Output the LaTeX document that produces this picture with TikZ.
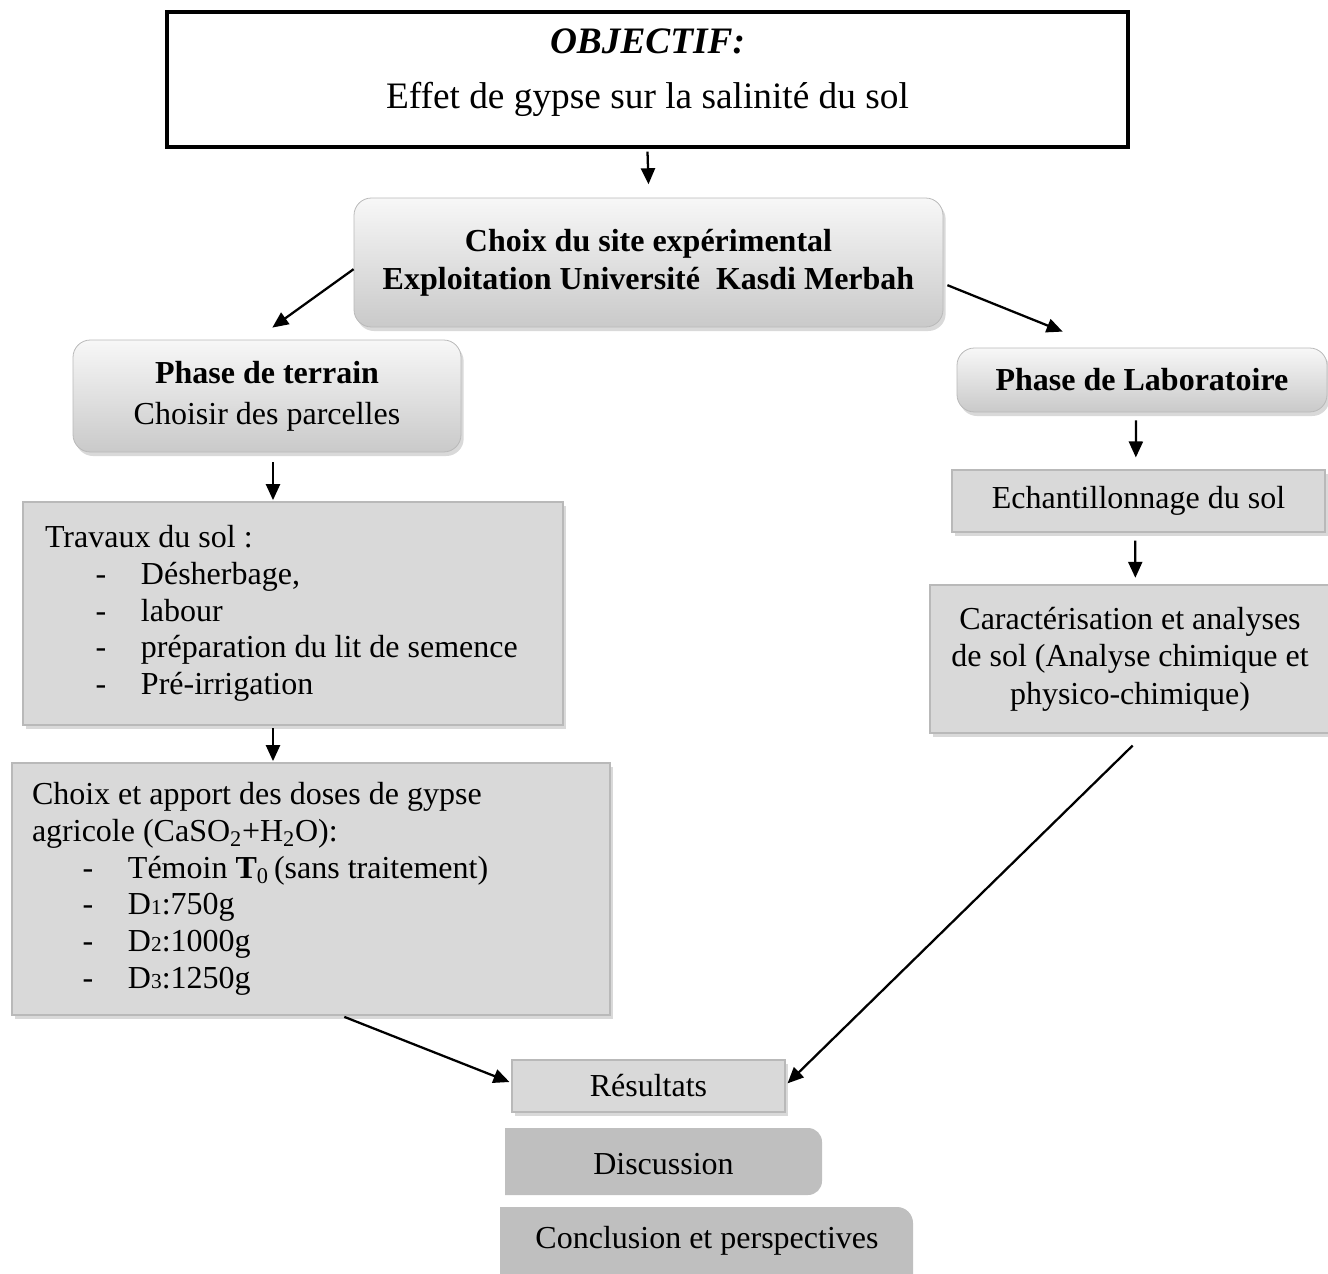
\documentclass[tikz,border=0pt]{standalone}
\usepackage{fontspec}
\setmainfont{Liberation Serif}
\usetikzlibrary{arrows.meta,shadows}
\definecolor{boxgray}{RGB}{217,217,217}
\definecolor{darkbox}{RGB}{191,191,191}
\definecolor{edgegray}{RGB}{185,185,185}
\newcommand{\ditem}[1]{\hspace*{38pt}\makebox[34pt][l]{-}#1}
\newcommand{\smallnum}[1]{{\fontsize{16}{16}\selectfont #1}}
\begin{document}
\begin{tikzpicture}[x=0.75pt,y=-0.75pt,
  objbox/.style={draw=black, line width=3pt, fill=white, inner sep=0pt},
  gradbox/.style={draw=edgegray, line width=0.6pt, rounded corners=13pt,
    top color=gray!6, bottom color=gray!42, align=center, inner sep=0pt,
    drop shadow={shadow xshift=2pt, shadow yshift=-3pt, opacity=0.3}},
  flatbox/.style={draw=edgegray, line width=0.8pt, fill=boxgray, inner sep=0pt,
    drop shadow={shadow xshift=2pt, shadow yshift=-3pt, opacity=0.3}},
  endbox/.style={fill=darkbox},
  arr/.style={line width=1.7pt, -{Triangle[length=12pt,width=10.5pt]}},
  body/.style={font=\fontsize{24}{27.5}\selectfont}
]
\useasboundingbox (0,0) rectangle (1328,1274);

% top objective box
\node[objbox, minimum width=720.75pt, minimum height=101.25pt] (obj) at (647.5,79.5)
  {\fontsize{28}{41}\selectfont\raisebox{1pt}[0pt][0pt]{\begin{tabular}{@{}c@{}}\textbf{\textit{OBJECTIF:}}\\ Effet de gypse sur la salinité du sol\end{tabular}}};

% site choice
\node[gradbox, minimum width=441.75pt, minimum height=96.75pt,
  font=\fontsize{24}{28.5}\selectfont\bfseries] (site) at (648.5,262.5)
  {Choix du site expérimental\\Exploitation Université\ \ Kasdi Merbah};

% phase de terrain
\node[gradbox, minimum width=291pt, minimum height=84pt,
  font=\fontsize{24}{31}\selectfont] (terrain) at (267,396)
  {\textbf{Phase de terrain}\\Choisir des parcelles};

% phase de laboratoire
\node[gradbox, minimum width=277.5pt, minimum height=48pt,
  font=\fontsize{24}{28}\selectfont\bfseries] (labo) at (1142,380)
  {Phase de Laboratoire};

% travaux du sol
\node[flatbox, body, text width=372pt, inner xsep=16.5pt, align=flush left,
  minimum height=167.25pt] (travaux) at (293,613.5)
  {Travaux du sol :\\
   \ditem{Désherbage,}\\
   \ditem{labour}\\
   \ditem{préparation du lit de semence}\\
   \ditem{Pré-irrigation}};

% choix et apport
\node[flatbox, body, text width=418.5pt, inner xsep=15pt, align=flush left,
  minimum height=189pt] (choix) at (311,889)
  {Choix et apport des doses de gypse\\
   agricole (CaSO\textsubscript{2}+H\textsubscript{2}O):\\
   \ditem{Témoin \textbf{T}\textsubscript{0}\,(sans traitement)}\\
   \ditem{D\smallnum{1}:750g}\\
   \ditem{D\smallnum{2}:1000g}\\
   \ditem{D\smallnum{3}:1250g}};

% echantillonnage
\node[flatbox, body, minimum width=279.75pt, minimum height=46.5pt] (echant) at (1138.5,501)
  {Echantillonnage du sol};

% caracterisation
\node[flatbox, minimum width=300pt, minimum height=111pt, align=center,
  font=\fontsize{24}{28}\selectfont] (caract) at (1130,659)
  {Caractérisation et analyses\\de sol (Analyse chimique et\\physico-chimique)};

% resultats
\node[flatbox, body, minimum width=204.75pt, minimum height=39pt] (result) at (648.5,1086)
  {Résultats};

% discussion
\fill[endbox] (505,1128) -- (808,1128) arc[start angle=90, end angle=0, x radius=14, y radius=-14]
  -- (822,1181) arc[start angle=0, end angle=-90, x radius=14, y radius=-14] -- (505,1195) -- cycle;
\node[body, inner sep=0pt] (disc) at (663.5,1164) {Discussion};

% conclusion
\fill[endbox] (500,1207) -- (897,1207) arc[start angle=90, end angle=0, x radius=16, y radius=-16]
  -- (913,1280) -- (500,1280) -- cycle;
\node[body, inner sep=0pt] (concl) at (707,1241) {Conclusion et perspectives};

% connectors
\draw[arr] ([yshift=-2pt]obj.south) -- ([yshift=10pt]site.north);
\draw[arr] ([yshift=-5pt]site.west) -- ([xshift=4pt,yshift=9pt]terrain.north);
\draw[arr] ([xshift=3pt,yshift=-17pt]site.east) -- ([xshift=-59.5pt,yshift=12pt]labo.north);
\draw[arr] ([xshift=4.5pt,yshift=-7.5pt]terrain.south) -- ([xshift=-15pt,yshift=1pt]travaux.north);
\draw[arr] ([xshift=-15pt,yshift=-2pt]travaux.south) -- ([xshift=-28.5pt,yshift=1pt]choix.north);
\draw[arr] ([xshift=-4.5pt,yshift=-6pt]labo.south) -- ([xshift=-2pt,yshift=9pt]echant.north);
\draw[arr] ([xshift=-2.5pt,yshift=-6pt]echant.south) -- ([xshift=4pt,yshift=5pt]caract.north);
\draw[arr] ([xshift=2pt,yshift=-9pt]caract.south) -- ([xshift=1.5pt,yshift=2pt]result.east);
\draw[arr] ([xshift=25pt,yshift=-1pt]choix.south) -- ([xshift=-1.5pt,yshift=3pt]result.west);
\end{tikzpicture}
\end{document}
